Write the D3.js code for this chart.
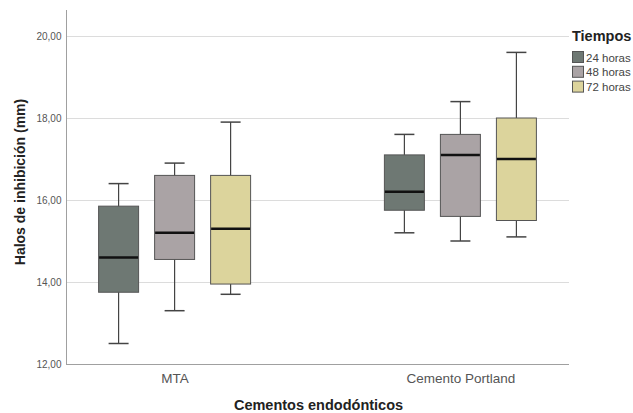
<!DOCTYPE html>
<html>
<head>
<meta charset="utf-8">
<script src="https://cdn.jsdelivr.net/npm/d3@7"></script>
<style>
  body { margin: 0; background: #fff; }
  text { font-family: "Liberation Sans", Arial, sans-serif; }
</style>
</head>
<body>
<div id="chart"></div>
<script>
(function () {

    var width = 633, height = 413

    // data
    var cementos = ['MTA', 'Cemento Portland']
    var tiempos = ['24 horas', '48 horas', '72 horas']
    var colores = ['#6e7873', '#aaa3a5', '#dcd49c']
    var yTicks = [12, 14, 16, 18, 20]

    // [whisker low, q1, median, q3, whisker high] per cemento, per tiempo
    var mta = [
        [12.5, 13.75, 14.6, 15.85, 16.4],
        [13.3, 14.55, 15.2, 16.6, 16.9],
        [13.7, 13.95, 15.3, 16.6, 17.9]
    ]
    var portland = [
        [15.2, 15.75, 16.2, 17.1, 17.6],
        [15.0, 15.6, 17.1, 17.6, 18.4],
        [15.1, 15.5, 17.0, 18.0, 19.6]
    ]

    var rows = []
    ;[mta, portland].forEach(function (grp, i) {
        grp.forEach(function (s, j) {
            rows.push({ cemento: cementos[i], tiempo: tiempos[j], lo: s[0], q1: s[1], med: s[2], q3: s[3], hi: s[4] })
        })
    })

    var margin = { left: 66, right: 64, top: 10, bottom: 49 }
    var x0 = margin.left, x1 = width - margin.right
    var yBottom = height - margin.bottom

    var svg = d3.select('#chart')
        .append('svg')
        .attr('width', width)
        .attr('height', height)

    var y = d3.scaleLinear().domain([12, 20]).range([yBottom, 36])

    var x = d3.scalePoint().domain(cementos).range([x0, x1]).padding(0.38)
    var xs = d3.scaleBand().domain(tiempos).range([-76, 76]).paddingInner(0.286).paddingOuter(0)
    var color = d3.scaleOrdinal().domain(tiempos).range(colores)

    // gridlines
    svg.append('g')
        .selectAll('line')
        .data(yTicks.slice(1))
        .enter().append('line')
        .attr('x1', x0).attr('x2', x1)
        .attr('y1', function (d) { return y(d) + 0.5 })
        .attr('y2', function (d) { return y(d) + 0.5 })
        .attr('stroke', '#dcdcdc')
        .attr('stroke-width', 1)

    // y axis
    var yAxis = svg.append('g')
        .attr('transform', 'translate(' + (x0 + 0.5) + ',0)')
        .call(d3.axisLeft(y).tickValues(yTicks).tickSize(0).tickPadding(5)
            .tickFormat(function (d) { return d3.format('.2f')(d).replace('.', ',') }))
    yAxis.select('.domain').remove()
    yAxis.selectAll('text').attr('fill', '#555').attr('font-size', 10)
    svg.append('line')
        .attr('x1', x0 + 0.5).attr('x2', x0 + 0.5)
        .attr('y1', 10).attr('y2', yBottom + 0.5)
        .attr('stroke', '#a0a0a0')

    // x axis
    var xAxis = svg.append('g')
        .attr('transform', 'translate(0,' + (yBottom + 0.5) + ')')
        .call(d3.axisBottom(x).tickSize(0).tickPadding(9))
    xAxis.select('.domain').attr('stroke', '#a0a0a0').attr('d', 'M' + x0 + ',0H' + x1)
    xAxis.selectAll('text').attr('fill', '#555').attr('font-size', 13.5)

    // boxes
    var bw = xs.bandwidth()
    var boxes = svg.append('g')
        .selectAll('g')
        .data(rows)
        .enter().append('g')
        .attr('transform', function (d) {
            return 'translate(' + (x(d.cemento) + xs(d.tiempo)) + ',0)'
        })

    boxes.append('line')
        .attr('x1', bw / 2).attr('x2', bw / 2)
        .attr('y1', function (d) { return y(d.hi) }).attr('y2', function (d) { return y(d.lo) })
        .attr('stroke', '#444').attr('stroke-width', 1.2)
    boxes.selectAll('.cap')
        .data(function (d) { return [d.lo, d.hi] })
        .enter().append('line')
        .attr('class', 'cap')
        .attr('x1', bw / 4).attr('x2', bw * 3 / 4)
        .attr('y1', function (v) { return y(v) }).attr('y2', function (v) { return y(v) })
        .attr('stroke', '#444').attr('stroke-width', 1.5)
    boxes.append('rect')
        .attr('x', 0).attr('width', bw)
        .attr('y', function (d) { return y(d.q3) })
        .attr('height', function (d) { return y(d.q1) - y(d.q3) })
        .attr('fill', function (d) { return color(d.tiempo) })
        .attr('stroke', '#555').attr('stroke-width', 1)
    boxes.append('line')
        .attr('x1', 0.5).attr('x2', bw - 0.5)
        .attr('y1', function (d) { return y(d.med) }).attr('y2', function (d) { return y(d.med) })
        .attr('stroke', '#111').attr('stroke-width', 2.5)

    // axis titles
    svg.append('text')
        .attr('x', (x0 + x1) / 2 + 1).attr('y', 410)
        .attr('text-anchor', 'middle')
        .attr('font-size', 14.5).attr('font-weight', 'bold').attr('fill', '#222')
        .text('Cementos endodónticos')
    svg.append('text')
        .attr('transform', 'translate(25,182) rotate(-90)')
        .attr('text-anchor', 'middle')
        .attr('font-size', 14).attr('font-weight', 'bold').attr('fill', '#222')
        .text('Halos de inhibición (mm)')

    // legend
    var legend = svg.append('g').attr('transform', 'translate(572,0)')
    legend.append('text')
        .attr('x', 0).attr('y', 41)
        .attr('font-size', 14.5).attr('font-weight', 'bold').attr('fill', '#222')
        .text('Tiempos')
    var items = legend.selectAll('.item')
        .data(tiempos)
        .enter().append('g')
        .attr('class', 'item')
        .attr('transform', function (d, i) { return 'translate(0,' + (51 + i * 14.8) + ')' })
    items.append('rect')
        .attr('x', 0.5).attr('y', 0.5).attr('width', 11).attr('height', 11)
        .attr('fill', function (d) { return color(d) })
        .attr('stroke', '#555')
    items.append('text')
        .attr('x', 14).attr('y', 10.5)
        .attr('font-size', 11.5).attr('fill', '#444')
        .text(function (d) { return d })

})()
</script>
</body>
</html>
